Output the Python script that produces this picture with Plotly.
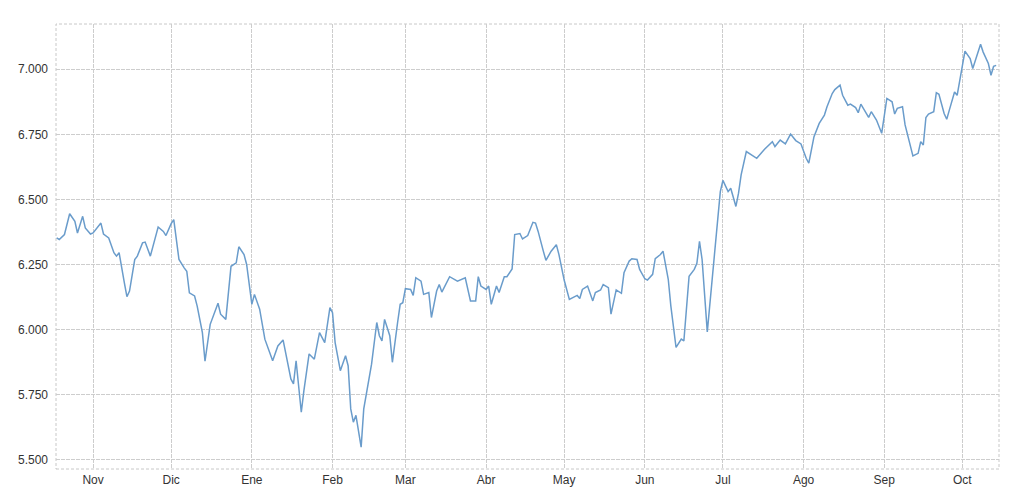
import plotly.graph_objects as go

# ---- data ----
dates = [
    "2013-10-18", "2013-10-19", "2013-10-21", "2013-10-23", "2013-10-25", "2013-10-26",
    "2013-10-28", "2013-10-29", "2013-10-31",
    "2013-11-01", "2013-11-04", "2013-11-05", "2013-11-07", "2013-11-09", "2013-11-10",
    "2013-11-11", "2013-11-13", "2013-11-14", "2013-11-15", "2013-11-17", "2013-11-18",
    "2013-11-20", "2013-11-21", "2013-11-23", "2013-11-26", "2013-11-28", "2013-11-29",
    "2013-12-01", "2013-12-02", "2013-12-04", "2013-12-06", "2013-12-07", "2013-12-08",
    "2013-12-10", "2013-12-11", "2013-12-13", "2013-12-14", "2013-12-16", "2013-12-19",
    "2013-12-20", "2013-12-22", "2013-12-24", "2013-12-26", "2013-12-27", "2013-12-29",
    "2013-12-30",
    "2014-01-01", "2014-01-02", "2014-01-04", "2014-01-06", "2014-01-09", "2014-01-11",
    "2014-01-13", "2014-01-14", "2014-01-16", "2014-01-17", "2014-01-18", "2014-01-20",
    "2014-01-21", "2014-01-23", "2014-01-25", "2014-01-27", "2014-01-29", "2014-01-31",
    "2014-02-01", "2014-02-02", "2014-02-04", "2014-02-06", "2014-02-07", "2014-02-08",
    "2014-02-09", "2014-02-10", "2014-02-12", "2014-02-13", "2014-02-15", "2014-02-16",
    "2014-02-18", "2014-02-19", "2014-02-20", "2014-02-21", "2014-02-23", "2014-02-24",
    "2014-02-26", "2014-02-27", "2014-02-28",
    "2014-03-01", "2014-03-03", "2014-03-04", "2014-03-05", "2014-03-07", "2014-03-08",
    "2014-03-10", "2014-03-11", "2014-03-13", "2014-03-14", "2014-03-15", "2014-03-18",
    "2014-03-21", "2014-03-24", "2014-03-26", "2014-03-28", "2014-03-29", "2014-03-30",
    "2014-04-01", "2014-04-02", "2014-04-03", "2014-04-05", "2014-04-06", "2014-04-08",
    "2014-04-09", "2014-04-11", "2014-04-12", "2014-04-14", "2014-04-15", "2014-04-17",
    "2014-04-19", "2014-04-20", "2014-04-21", "2014-04-23", "2014-04-24", "2014-04-26",
    "2014-04-28", "2014-04-29", "2014-04-30",
    "2014-05-01", "2014-05-03", "2014-05-04", "2014-05-06", "2014-05-07", "2014-05-08",
    "2014-05-10", "2014-05-12", "2014-05-13", "2014-05-15", "2014-05-16", "2014-05-18",
    "2014-05-19", "2014-05-21", "2014-05-23", "2014-05-24", "2014-05-26", "2014-05-27",
    "2014-05-29", "2014-05-30",
    "2014-06-01", "2014-06-02", "2014-06-04", "2014-06-05", "2014-06-07", "2014-06-08",
    "2014-06-10", "2014-06-11", "2014-06-13", "2014-06-15", "2014-06-16", "2014-06-18",
    "2014-06-20", "2014-06-21", "2014-06-22", "2014-06-23", "2014-06-25", "2014-06-27",
    "2014-06-29", "2014-06-30",
    "2014-07-01", "2014-07-03", "2014-07-04", "2014-07-06", "2014-07-07", "2014-07-08",
    "2014-07-10", "2014-07-12", "2014-07-14", "2014-07-17", "2014-07-18", "2014-07-20",
    "2014-07-21", "2014-07-23", "2014-07-25", "2014-07-27", "2014-07-29", "2014-07-31",
    "2014-08-02", "2014-08-03", "2014-08-05", "2014-08-07", "2014-08-09", "2014-08-10",
    "2014-08-12", "2014-08-13", "2014-08-15", "2014-08-16", "2014-08-18", "2014-08-19",
    "2014-08-21", "2014-08-22", "2014-08-23", "2014-08-25", "2014-08-26", "2014-08-27",
    "2014-08-29", "2014-08-31",
    "2014-09-02", "2014-09-04", "2014-09-05", "2014-09-06", "2014-09-08", "2014-09-09",
    "2014-09-11", "2014-09-12", "2014-09-14", "2014-09-15", "2014-09-16", "2014-09-17",
    "2014-09-18", "2014-09-20", "2014-09-21", "2014-09-22", "2014-09-24", "2014-09-25",
    "2014-09-26", "2014-09-28", "2014-09-29", "2014-09-30",
    "2014-10-02", "2014-10-04", "2014-10-05", "2014-10-08", "2014-10-09", "2014-10-11",
    "2014-10-12", "2014-10-13", "2014-10-14",
]

values = [
    6352, 6346, 6365, 6445, 6416, 6371,
    6435, 6390, 6367,
    6371, 6409, 6367, 6352, 6295, 6282,
    6295, 6180, 6126, 6148, 6269, 6282,
    6333, 6336, 6282, 6394, 6377, 6361,
    6407, 6422, 6269, 6237, 6224, 6141,
    6129, 6090, 5988, 5878, 6020, 6101,
    6059, 6039, 6243, 6256, 6318, 6288,
    6250,
    6097, 6135, 6078, 5963, 5880, 5937,
    5960, 5912, 5810, 5791, 5880, 5682,
    5765, 5906, 5886, 5988, 5950, 6084,
    6065, 5950, 5842, 5899, 5861, 5695,
    5644, 5670, 5548, 5695, 5816, 5867,
    6027, 5976, 5956, 6039, 5976, 5874,
    6027, 6097, 6103,
    6157, 6154, 6131, 6199, 6186, 6135,
    6142, 6046, 6148, 6173, 6144, 6203,
    6186, 6199, 6110, 6110, 6203, 6167,
    6154, 6167, 6097, 6167, 6142, 6203,
    6203, 6233, 6365, 6369, 6348, 6361,
    6412, 6409, 6377, 6301, 6266, 6301,
    6326, 6288, 6231,
    6190, 6116, 6122, 6131, 6119, 6154,
    6167, 6110, 6142, 6152, 6173, 6161,
    6059, 6152, 6139, 6218, 6263, 6272,
    6269, 6231,
    6195, 6190, 6212, 6272, 6288, 6301,
    6193, 6090, 5931, 5963, 5956, 6205,
    6231, 6254, 6339, 6269, 5991, 6205,
    6396, 6530,
    6573, 6530, 6543, 6473, 6524, 6594,
    6684, 6671, 6658, 6693, 6703, 6722,
    6703, 6728, 6713, 6751, 6726, 6713,
    6658, 6639, 6741, 6792, 6824, 6856,
    6907, 6922, 6939, 6900, 6862, 6866,
    6853, 6833, 6866, 6830, 6815, 6837,
    6805, 6754,
    6888, 6875, 6828, 6850, 6856, 6786,
    6703, 6667, 6677, 6722, 6709, 6815,
    6828, 6837, 6910, 6904, 6830, 6808,
    6843, 6913, 6900, 6958,
    7070, 7041, 7003, 7096, 7066, 7022,
    6977, 7011, 7015,
]

month_ticks = ["2013-11-01", "2013-12-01", "2014-01-01", "2014-02-01", "2014-03-01",
               "2014-04-01", "2014-05-01", "2014-06-01", "2014-07-01", "2014-08-01",
               "2014-09-01", "2014-10-01"]
month_labels = ["Nov", "Dic", "Ene", "Feb", "Mar", "Abr", "May", "Jun", "Jul", "Ago",
                "Sep", "Oct"]
y_ticks = [5500, 5750, 6000, 6250, 6500, 6750, 7000]

fig = go.Figure()
fig.add_trace(go.Scatter(
    x=dates, y=values, mode="lines",
    line=dict(color="#6a9ccb", width=1.5),
    hoverinfo="x+y",
))

grid = "#cdcdcd"
fig.update_layout(
    width=1003, height=492,
    margin=dict(l=48, r=12, t=16, b=31),
    paper_bgcolor="white", plot_bgcolor="white",
    separators=",.",
    showlegend=False,
    font=dict(family="Liberation Sans, Arial, sans-serif", size=12, color="#333333"),
    xaxis=dict(
        type="date",
        range=["2013-10-17 18:00", "2014-10-15 02:00"],
        tickvals=month_ticks, ticktext=month_labels,
        showgrid=True, gridcolor=grid, gridwidth=1, griddash="4px,1px",
        zeroline=False, showline=False, automargin=False,
        ticks="", ticklabelstandoff=2,
    ),
    yaxis=dict(
        range=[5464, 7174],
        tickvals=y_ticks, tickformat=",d",
        showgrid=True, gridcolor=grid, gridwidth=1, griddash="4px,1px",
        zeroline=False, showline=False, automargin=False,
        ticks="", ticklabelstandoff=7,
    ),
    shapes=[dict(type="rect", xref="paper", yref="paper", x0=0, y0=0, x1=1, y1=1,
                 line=dict(color="#c8c8c8", width=1, dash="3px,2px"),
                 fillcolor="rgba(0,0,0,0)", layer="below")],
)

fig.write_html("out.html")
